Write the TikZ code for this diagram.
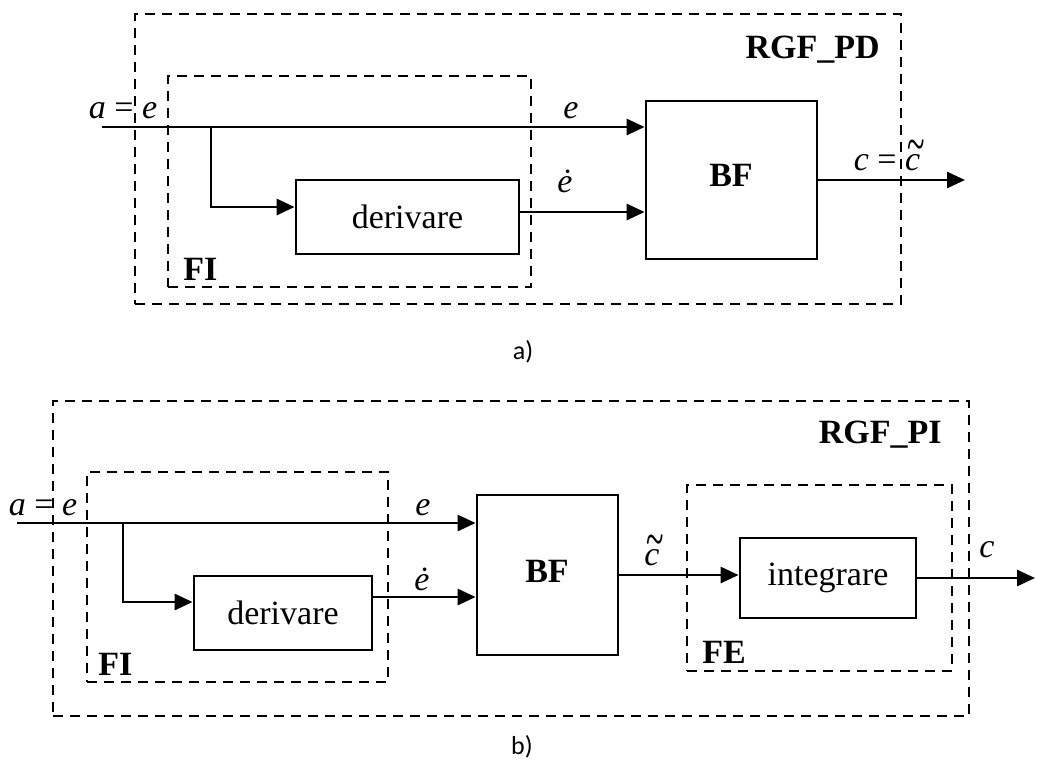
\documentclass[tikz,border=0pt]{standalone}
\usepackage{fontspec}
\usepackage{graphicx}
\setmainfont{Liberation Serif}
\newfontfamily\capfont{Carlito}
\usetikzlibrary{arrows.meta,calc}
\newcommand\ctil{\makebox[0pt][l]{\hspace{0.06em}\raisebox{0.22em}{\scalebox{0.95}[1.6]{\char"7E}}}\textit{c}}
\begin{document}
\begin{tikzpicture}[x=0.5pt,y=-0.5pt,
  txt/.style={font=\fontsize{17}{20}\selectfont, inner sep=0pt},
  lbl/.style={font=\fontsize{17}{20}\selectfont\bfseries, inner sep=0pt},
  blk/.style={draw, line width=1.4pt, inner sep=0pt, font=\fontsize{17}{20}\selectfont},
  frame/.style={draw, line width=1.3pt, dash pattern=on 5pt off 3.5pt, inner sep=0pt},
  arr/.style={line width=1.4pt, -{Triangle[length=9pt,width=8pt]}},
  captxt/.style={font=\capfont\fontsize{13}{15}\selectfont, inner sep=0pt}]
\useasboundingbox (0,0) rectangle (1037,761);
% ---------- a) ----------
\node[frame, minimum width=383pt, minimum height=145pt] (outerA) at (518,159) {};
\node[frame, minimum width=181.5pt, minimum height=105.5pt] (fiA) at (349.5,181.5) {};
\node[blk, minimum width=111.5pt, minimum height=37pt] (derA) at (407.5,217) {derivare};
\node[blk, minimum width=85.5pt, minimum height=79pt] (bfA) at (731.5,180) {};
\node[lbl] (bfAt) at (731,175) {BF};
\coordinate (inA) at (102,127);
\coordinate (brA) at (211,127);
\coordinate (outA) at (965,180);
\draw[arr] (inA) -- (inA -| bfA.west);
\draw[arr] (brA) |- ([yshift=5pt]derA.west);
\draw[arr] ([yshift=2.5pt]derA.east) -- ([yshift=2.5pt]derA.east -| bfA.west);
\draw[arr] (bfA.east) -- (outA);
\node[txt, anchor=base] (aeA) at (123,118) {\textit{a} = \textit{e}};
\node[txt, anchor=base] (eA) at (571,118) {\textit{e}};
\node[txt, anchor=base] (edA) at (565,192) {\textit{\.e}};
\node[txt, anchor=base] (ccA) at (887,170) {\textit{c} = \ctil};
\node[lbl, anchor=base east] (rgfA) at (880,58) {RGF\_PD};
\node[lbl, anchor=base west] (fiAt) at (183,280) {FI};
\node[captxt] (capA) at (523,352) {a)};
% ---------- b) ----------
\node[frame, minimum width=458pt, minimum height=157.5pt] (outerB) at (511,558.5) {};
\node[frame, minimum width=150.5pt, minimum height=105pt] (fiB) at (237.5,577) {};
\node[frame, minimum width=132.5pt, minimum height=93pt] (feB) at (819.5,578) {};
\node[blk, minimum width=89pt, minimum height=37pt] (derB) at (283,613) {derivare};
\node[blk, minimum width=70.5pt, minimum height=80pt] (bfB) at (547.5,575) {};
\node[lbl] (bfBt) at (547,571) {BF};
\node[blk, minimum width=88pt, minimum height=40pt] (intB) at (828,578) {integrare};
\coordinate (inB) at (17,523);
\coordinate (brB) at (123,523);
\coordinate (outB) at (1035,578);
\draw[arr] (inB) -- (inB -| bfB.west);
\draw[arr] (brB) |- ([yshift=5.5pt]derB.west);
\draw[arr] ([yshift=8pt]derB.east) -- ([yshift=8pt]derB.east -| bfB.west);
\draw[arr] (bfB.east) -- (bfB.east -| intB.west);
\draw[arr] (intB.east) -- (outB);
\node[txt, anchor=base] (aeB) at (43,515) {\textit{a} = \textit{e}};
\node[txt, anchor=base] (eB) at (423,515) {\textit{e}};
\node[txt, anchor=base] (edB) at (422,590) {\textit{\.e}};
\node[txt, anchor=base] (ctB) at (652,565) {\ctil};
\node[txt, anchor=base] (cB) at (987,557) {\textit{c}};
\node[lbl, anchor=base east] (rgfB) at (942,443) {RGF\_PI};
\node[lbl, anchor=base west] (fiBt) at (98,675) {FI};
\node[lbl, anchor=base west] (feBt) at (702,663) {FE};
\node[captxt] (capB) at (522,747) {b)};
\end{tikzpicture}
\end{document}
